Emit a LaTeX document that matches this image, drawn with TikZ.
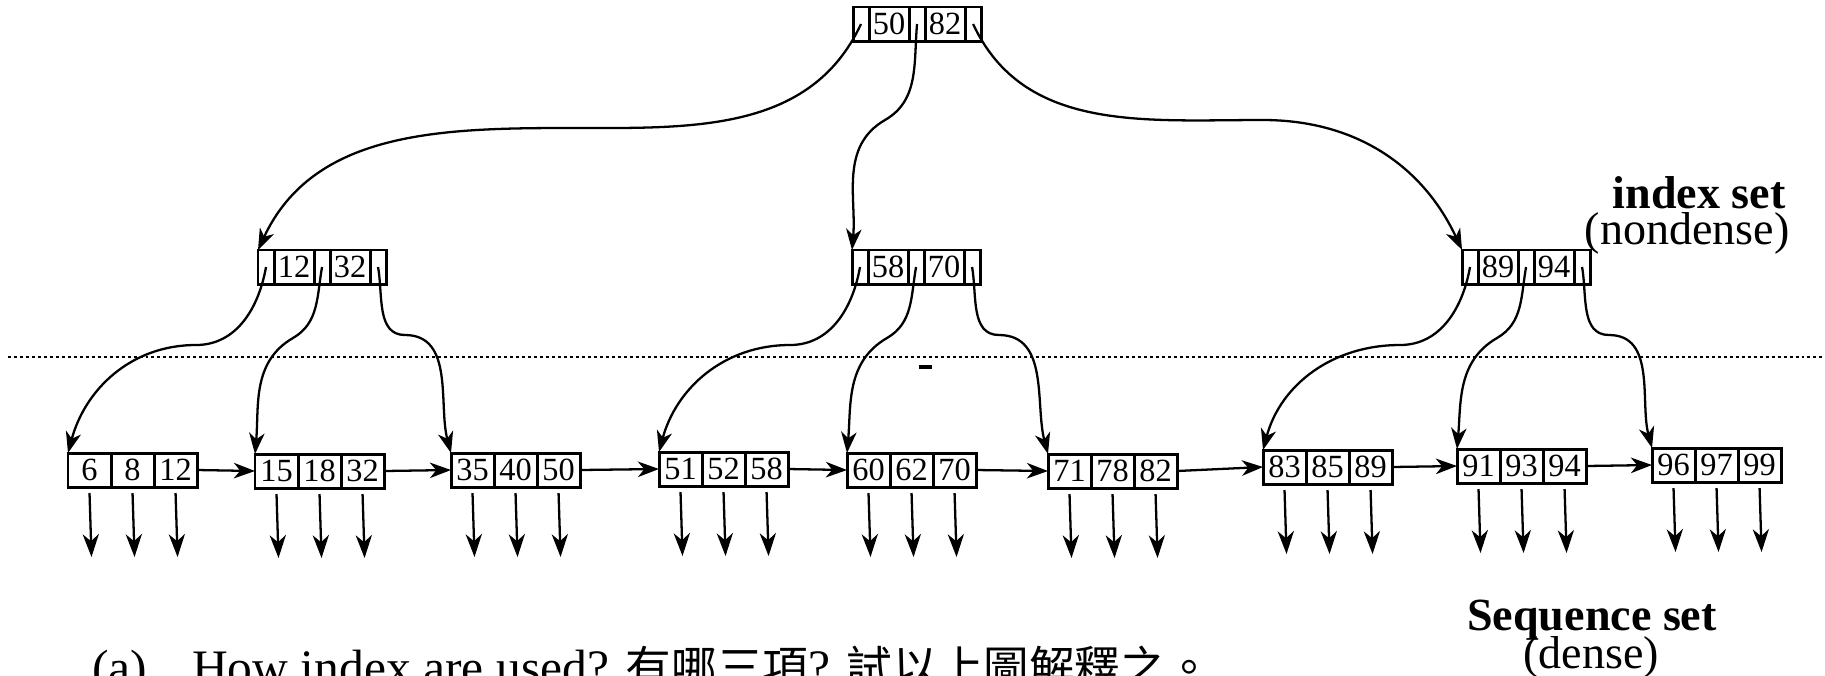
\documentclass[tikz,border=0pt]{standalone}
\usepackage{fontspec}
\setmainfont{Liberation Serif}
\newfontfamily\cjk{Noto Sans CJK TC}[Scale=0.92]
\usetikzlibrary{positioning,arrows.meta}

\begin{document}
\begin{tikzpicture}[x=0.01cm,y=0.01cm,
  every node/.style={font=\fontsize{13.1}{15}\selectfont},
  cell/.style={draw,line width=0.85pt,inner sep=0pt,outer sep=0pt,
    minimum height=0.34cm,font=\fontsize{9.2}{10}\selectfont},
  ptrcell/.style={cell,minimum width=0.16cm},
  keycell/.style={cell,minimum width=0.40cm},
  leafcell/.style={cell,minimum width=0.43cm},
  link/.style={line width=0.65pt,-{Stealth[length=6pt,width=4.4pt,inset=1.8pt]}},
  drop/.style={line width=0.65pt,-{Stealth[length=6.5pt,width=4.6pt,inset=2pt]}},
]
\useasboundingbox (0,0) rectangle (1825,-675);

% index nodes: pointer | key | pointer | key | pointer
\foreach \n/\x/\y/\k/\l in {t/853/24/50/82, a/258/267/12/32, b/852/267/58/70, c/1462/267/89/94}
{
  \node[ptrcell,anchor=west] (\n0) at (\x,-\y) {};
  \node[keycell,right=0pt of \n0] (\n1) {\k};
  \node[ptrcell,right=0pt of \n1] (\n2) {};
  \node[keycell,right=0pt of \n2] (\n3) {\l};
  \node[ptrcell,right=0pt of \n3] (\n4) {};
}

% sequence set
\foreach \n/\x/\y/\p/\q/\r in {1/68/470/6/8/12, 2/255/471/15/18/32, 3/451/470/35/40/50,
  4/659/469/51/52/58, 5/847/470/60/62/70, 6/1048/471/71/78/82,
  7/1263/467/83/85/89, 8/1457/466/91/93/94, 9/1652/465/96/97/99}
{
  \node[leafcell,anchor=west] (s\n a) at (\x,-\y) {\p};
  \node[leafcell,right=0pt of s\n a] (s\n b) {\q};
  \node[leafcell,right=0pt of s\n b] (s\n c) {\r};
  \foreach \cl in {a,b,c}
    \draw[drop] (s\n\cl.south) ++(0,-6) -- ++(2,-64) coordinate (e\n\cl);
}
\foreach \n [count=\m from 2] in {1,...,8}
  \draw[link] (s\n c.east) -- (s\m a.west);

% root to index set
\coordinate (tk1) at (570,-128);
\coordinate (tk2) at (885,-120);
\coordinate (tk3) at (1263,-120);
\draw[link] (t0.center) to[out=-115,in=0] (tk1) to[out=180,in=65] (a0.north west);
\draw[link] (t2.center) to[out=-95,in=30] (tk2) to[out=-150,in=85] (b0.north west);
\draw[link] (t4.center) to[out=-65,in=180] (tk3) to[out=0,in=115] (c0.north west);

% index set to sequence set
\foreach \n/\x/\i/\j/\k in {a/258/1/2/3, b/852/4/5/6, c/1462/7/8/9}
{
  \coordinate (\n k1) at (\x-62,-345);
  \coordinate (\n k2) at (\x+35,-338);
  \coordinate (\n k3) at (\x+147,-335);
  \draw[link] (\n0.center) to[out=-100,in=0] (\n k1) to[out=180,in=75] (s\i a.north west);
  \draw[link] (\n2.center) to[out=-100,in=30] (\n k2) to[out=-150,in=85] (s\j a.north west);
  \draw[link] (\n4.center) to[out=-80,in=180] (\n k3) to[out=0,in=105] (s\k a.north west);
}

\draw[line width=0.8pt,dash pattern=on 0.85pt off 0.85pt] (8,-357) -- (1825,-357);
\draw[line width=1pt] (919,-367) -- (932,-367);

\node[anchor=base east,font=\fontsize{13.1}{15}\selectfont\bfseries] (idx) at (1798,-208) {index set};
\node[anchor=base east] (nondense) at (1802,-244) {(nondense)};
\node[anchor=base,font=\fontsize{13.1}{15}\selectfont\bfseries] (seq) at (1592,-630) {Sequence set};
\node[anchor=base] (dense) at (1591,-668) {(dense)};
\node[anchor=base west,font=\fontsize{14.1}{16}\selectfont] (quest) at (80,-684) {(a)\hspace{0.9em}How index are used? {\cjk 有哪三項}? {\cjk 試以上圖解釋之。}};
\end{tikzpicture}
\end{document}
